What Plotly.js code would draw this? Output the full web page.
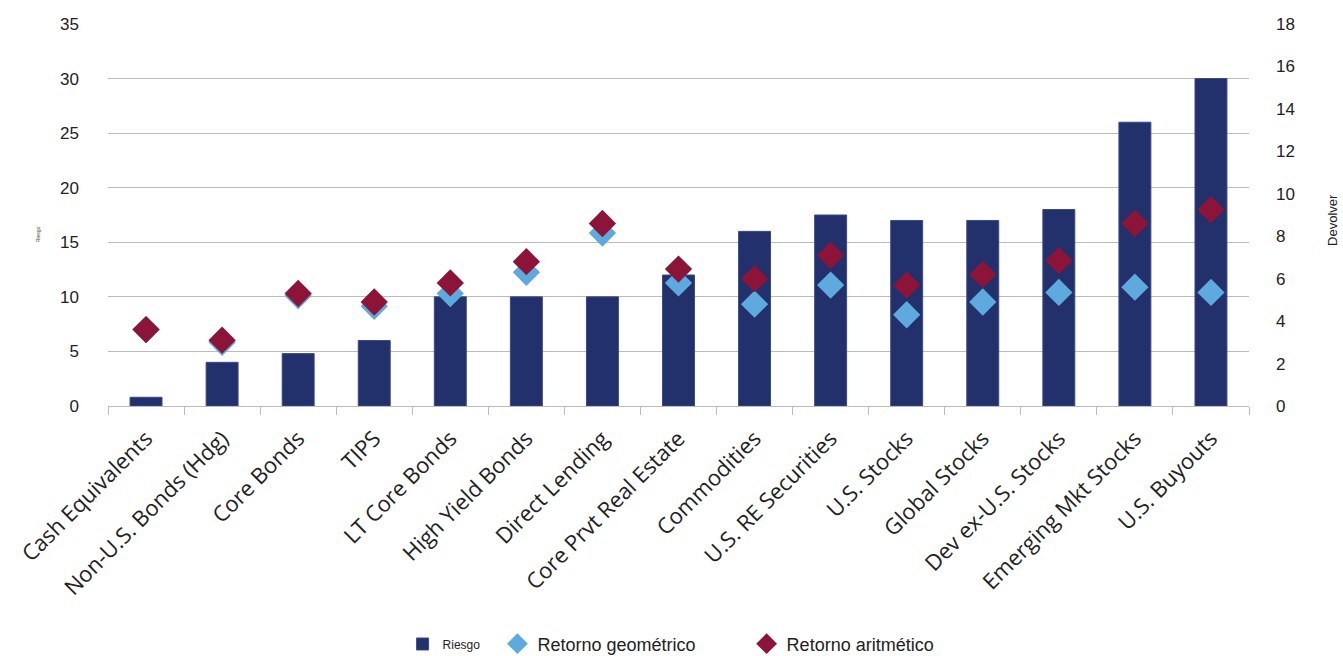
<!DOCTYPE html>
<html>
<head>
<meta charset="utf-8">
<script src="https://cdn.plot.ly/plotly-3.0.1.min.js"></script>
<style>
  html, body { margin: 0; padding: 0; background: #ffffff; }
  #chart { width: 1343px; height: 656px; }
</style>
</head>
<body>
<div id="chart"></div>
<script>
// Asset classes on the category axis
const categories = [
  "Cash Equivalents", "Non-U.S. Bonds (Hdg)", "Core Bonds", "TIPS",
  "LT Core Bonds", "High Yield Bonds", "Direct Lending", "Core Prvt Real Estate",
  "Commodities", "U.S. RE Securities", "U.S. Stocks", "Global Stocks",
  "Dev ex-U.S. Stocks", "Emerging Mkt Stocks", "U.S. Buyouts"
];

// Risk (volatility), left axis
const riesgo = [0.8, 4.0, 4.8, 6.0, 10.0, 10.0, 10.0, 12.0, 16.0, 17.5, 17.0, 17.0, 18.0, 26.0, 30.0];

// Geometric and arithmetic expected returns, right axis
const retornoGeometrico = [3.6, 3.0, 5.2, 4.7, 5.3, 6.3, 8.15, 5.8, 4.8, 5.7, 4.3, 4.9, 5.35, 5.6, 5.35];
const retornoAritmetico = [3.6, 3.1, 5.3, 4.9, 5.8, 6.8, 8.6, 6.45, 6.0, 7.1, 5.7, 6.2, 6.85, 8.6, 9.25];

const legendNames = ["Riesgo", "Retorno geométrico", "Retorno aritmético"];
const axisTitles = ["Riesgo", "Devolver"];

const navy = "#22306b";
const lightBlue = "#5eaade";
const wine = "#8c1438";
const gridColor = "#bcbcbc";
const sans = "Liberation Sans, Arial, sans-serif";

const traces = [
  {
    type: "bar",
    name: legendNames[0],
    x: categories,
    y: riesgo,
    marker: { color: navy, line: { color: "#3a4a86", width: 1 } },
    legend: "legend",
    hoverinfo: "x+y"
  },
  {
    type: "scatter",
    mode: "markers",
    name: legendNames[1],
    x: categories,
    y: retornoGeometrico,
    yaxis: "y2",
    marker: { symbol: "diamond", size: 21, color: lightBlue },
    legend: "legend2"
  },
  {
    type: "scatter",
    mode: "markers",
    name: legendNames[2],
    x: categories,
    y: retornoAritmetico,
    yaxis: "y2",
    marker: { symbol: "diamond", size: 21, color: wine },
    legend: "legend3"
  }
];

const tickFont = { family: sans, size: 17, color: "#222222" };
const legendBase = { orientation: "h", y: -0.623, xanchor: "left", yanchor: "middle", bgcolor: "rgba(0,0,0,0)" };

const layout = {
  width: 1343,
  height: 656,
  // fixed plot box; nothing is allowed to grow the margins
  margin: { l: 108, r: 94, t: 24, b: 250, autoexpand: false },
  paper_bgcolor: "#ffffff",
  plot_bgcolor: "#ffffff",
  bargap: 0.58,
  showlegend: true,
  xaxis: {
    type: "category",
    range: [-0.5, categories.length - 0.5],
    automargin: false,
    tickangle: -45,
    tickfont: { family: "Open Sans, sans-serif", size: 22, color: "#222222" },
    ticklabelstandoff: 10,
    showgrid: false,
    showline: true,
    linecolor: gridColor,
    linewidth: 1,
    ticks: "outside",
    ticklen: 8,
    tickcolor: gridColor,
    tickson: "boundaries",
    zeroline: false
  },
  yaxis: {
    range: [0, 35],
    dtick: 5,
    automargin: false,
    tickfont: tickFont,
    showgrid: true,
    gridcolor: gridColor,
    gridwidth: 1,
    zeroline: false,
    ticks: "",
    ticklabelstandoff: 28
  },
  yaxis2: {
    range: [0, 18],
    dtick: 2,
    automargin: false,
    overlaying: "y",
    side: "right",
    tickfont: tickFont,
    showgrid: false,
    zeroline: false,
    ticks: "",
    ticklabelstandoff: 26
  },
  annotations: [
    {
      text: axisTitles[0], xref: "paper", yref: "paper", x: -0.0613, y: 0.45,
      textangle: -90, showarrow: false, xanchor: "center", yanchor: "middle",
      font: { family: sans, size: 5, color: "#444444" }
    },
    {
      text: axisTitles[1], xref: "paper", yref: "paper", x: 1.0736, y: 0.487,
      textangle: -90, showarrow: false, xanchor: "center", yanchor: "middle",
      font: { family: sans, size: 13, color: "#222222" }
    }
  ],
  legend: Object.assign({}, legendBase, { x: 0.2582, font: { family: sans, size: 12, color: "#222222" } }),
  legend2: Object.assign({}, legendBase, { x: 0.3413, font: { family: sans, size: 18, color: "#222222" } }),
  legend3: Object.assign({}, legendBase, { x: 0.5597, font: { family: sans, size: 18, color: "#222222" } })
};

Plotly.newPlot("chart", traces, layout, { displayModeBar: false, staticPlot: true });
</script>
</body>
</html>
